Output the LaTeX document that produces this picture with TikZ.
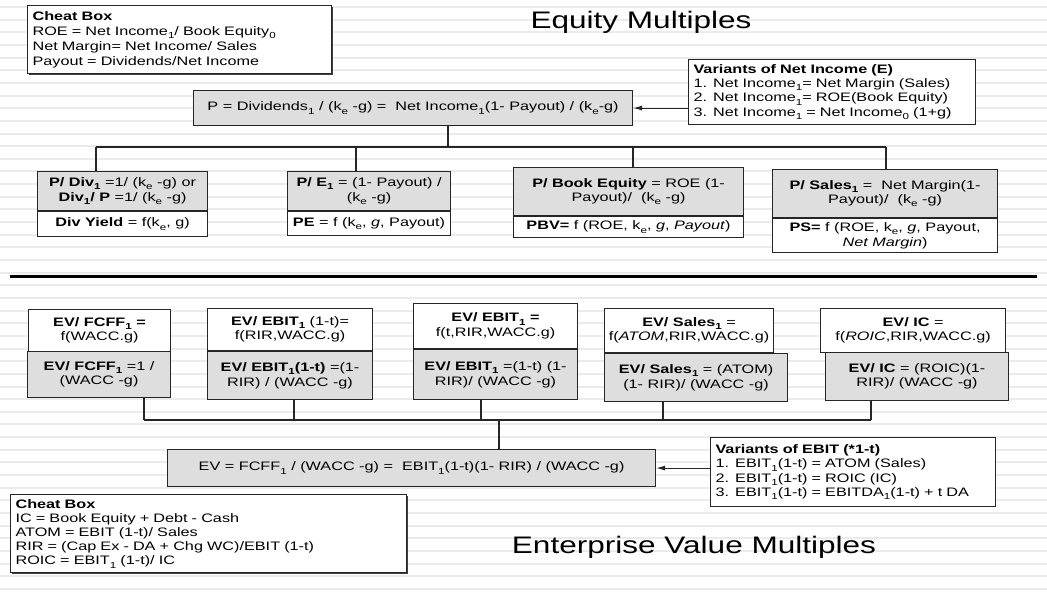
\documentclass[tikz,border=0pt]{standalone}
\usepackage{fontspec}
\setmainfont{Liberation Sans}[FakeStretch=1.32]
\usetikzlibrary{arrows.meta,positioning,calc,shadows}

\definecolor{boxgray}{RGB}{222,222,222}
\definecolor{stripegray}{RGB}{235,235,235}
\newcommand{\sbsc}[1]{\raisebox{-3.2pt}{\fontsize{8.8}{9}\selectfont #1}}

\tikzset{
  whitebox/.style={draw=black!85, line width=1.1pt, fill=white, align=center, inner sep=1pt, anchor=north west},
  greybox/.style={whitebox, fill=boxgray},
  note/.style={draw=black!85, line width=1.1pt, fill=white, align=left, anchor=north west,
    inner xsep=5pt, inner ysep=2pt, font=\fontsize{12.3}{14.2}\selectfont},
  cheat/.style={note, drop shadow={shadow xshift=1.2pt, shadow yshift=-1.2pt, fill=black!75, opacity=1}},
  wire/.style={line width=1.1pt, draw=black!85},
  feed/.style={wire, -{Latex[length=9pt,width=5pt]}},
  bigtitle/.style={font=\fontsize{23.9}{28}\selectfont}
}

\begin{document}
\begin{tikzpicture}[x=1pt, y=-1pt, font=\fontsize{12.3}{14.5}\selectfont]
  \useasboundingbox (0,0) rectangle (1047,595);
  \foreach \k in {0,...,46}
    \draw[stripegray, line width=2pt] (0,{7+12.65*\k}) -- (1047,{7+12.65*\k});

  % equity multiples
  \node[cheat, text width=294pt, minimum height=68pt, font=\fontsize{12.3}{15}\selectfont] (cheattop) at (27,5)
    {\textbf{Cheat Box}\\ROE = Net Income\sbsc{1}/ Book Equity\sbsc{0}\\Net Margin= Net Income/ Sales\\Payout = Dividends/Net Income};
  \node[bigtitle] (eqtitle) at (641,22) {Equity Multiples};
  \node[note, text width=277pt, minimum height=65pt] (varni) at (688,59)
    {\textbf{Variants of Net Income (E)}\\1. Net Income\sbsc{1}= Net Margin (Sales)\\2. Net Income\sbsc{1}= ROE(Book Equity)\\3. Net Income\sbsc{1} = Net Income\sbsc{0} (1+g)};
  \node[greybox, minimum width=439pt, minimum height=35pt] (pbox) at (193,90)
    {P = Dividends\sbsc{1} / (k\sbsc{e} -g) = \ Net Income\sbsc{1}(1- Payout) / (k\sbsc{e}-g)};
  \draw[feed] (varni.west |- pbox.east) -- (pbox.east);

  \node[greybox, minimum width=170pt, minimum height=39pt] (divtop) at (37,171)
    {\textbf{P/ Div\sbsc{1}} =1/ (k\sbsc{e} -g) or\\\textbf{Div\sbsc{1}/ P} =1/ (k\sbsc{e} -g)};
  \node[whitebox, minimum width=170pt, minimum height=25pt, below=0pt of divtop] (divbot)
    {\textbf{Div Yield} = f(k\sbsc{e}, g)};
  \node[greybox, minimum width=163pt, minimum height=39pt] (petop) at (287,171)
    {\textbf{P/ E\sbsc{1}} = (1- Payout) /\\(k\sbsc{e} -g)};
  \node[whitebox, minimum width=163pt, minimum height=24pt, below=0pt of petop] (pebot)
    {\textbf{PE} = f (k\sbsc{e}, \textit{g}, Payout)};
  \node[greybox, minimum width=230pt, minimum height=48pt] (pbvtop) at (513,167)
    {\textbf{P/ Book Equity} = ROE (1-\\Payout)/ \ (k\sbsc{e} -g)};
  \node[whitebox, minimum width=230pt, minimum height=21pt, below=0pt of pbvtop] (pbvbot)
    {\textbf{PBV=} f (ROE, k\sbsc{e}, \textit{g}, \textit{Payout})};
  \node[greybox, minimum width=225pt, minimum height=48pt] (pstop) at (772,169)
    {\textbf{P/ Sales\sbsc{1}} = \ Net Margin(1-\\Payout)/ \ (k\sbsc{e} -g)};
  \node[whitebox, minimum width=225pt, minimum height=34pt, below=0pt of pstop] (psbot)
    {\textbf{PS=} f (ROE, k\sbsc{e}, \textit{g}, Payout,\\\textit{Net Margin})};

  \coordinate (pdrop) at (448,147);
  \coordinate (busw) at (96,147);
  \coordinate (pedrop) at (356,147);
  \coordinate (pbvdrop) at (633,147);
  \coordinate (buse) at (886,147);
  \draw[wire] (pdrop |- pbox.south) -- (pdrop);
  \draw[wire] (busw) -- (buse);
  \draw[wire] (busw) -- (busw |- divtop.north);
  \draw[wire] (pedrop) -- (pedrop |- petop.north);
  \draw[wire] (pbvdrop) -- (pbvdrop |- pbvtop.north);
  \draw[wire] (buse) -- (buse |- pstop.north);

  \draw[line width=3pt] (10,276) -- (1037,276);

  % enterprise value multiples
  \node[whitebox, minimum width=142pt, minimum height=42pt] (fcfftop) at (28,309)
    {\textbf{EV/ FCFF\sbsc{1} =}\\f(WACC.g)};
  \node[greybox, minimum width=143pt, minimum height=46pt] (fcffbot) at (27,351)
    {\textbf{EV/ FCFF\sbsc{1}} =1 /\\(WACC -g)};
  \node[whitebox, minimum width=165pt, minimum height=42pt] (ebtttop) at (207,308)
    {\textbf{EV/ EBIT\sbsc{1}} (1-t)=\\f(RIR,WACC.g)};
  \node[greybox, minimum width=165pt, minimum height=48pt, below=0pt of ebtttop] (ebttbot)
    {\textbf{EV/ EBIT\sbsc{1}(1-t)} =(1-\\RIR) / (WACC -g)};
  \node[whitebox, minimum width=164pt, minimum height=45pt] (ebittop) at (413,303)
    {\textbf{EV/ EBIT\sbsc{1} =}\\f(t,RIR,WACC.g)};
  \node[greybox, minimum width=164pt, minimum height=50pt, below=0pt of ebittop] (ebitbot)
    {\textbf{EV/ EBIT\sbsc{1}} =(1-t) (1-\\RIR)/ (WACC -g)};
  \node[whitebox, minimum width=169pt, minimum height=44pt] (salestop) at (604,308)
    {\textbf{EV/ Sales\sbsc{1}} =\\f(\textit{ATOM},RIR,WACC.g)};
  \node[greybox, minimum width=183pt, minimum height=48pt] (salesbot) at (salestop.south west)
    {\textbf{EV/ Sales\sbsc{1}} = (ATOM)\\(1- RIR)/ (WACC -g)};
  \node[whitebox, minimum width=185pt, minimum height=44pt] (ictop) at (820,308)
    {\textbf{EV/ IC} =\\f(\textit{ROIC},RIR,WACC.g)};
  \node[greybox, minimum width=183pt, minimum height=48pt] (icbot) at (825,352)
    {\textbf{EV/ IC} = (ROIC)(1-\\RIR)/ (WACC -g)};

  \node[greybox, minimum width=488pt, minimum height=37pt] (evbox) at (167,449)
    {EV = FCFF\sbsc{1} / (WACC -g) = \ EBIT\sbsc{1}(1-t)(1- RIR) / (WACC -g)};
  \node[note, text width=275pt, minimum height=69pt] (varebit) at (710,437)
    {\textbf{Variants of EBIT (*1-t)}\\1. EBIT\sbsc{1}(1-t) = ATOM (Sales)\\2. EBIT\sbsc{1}(1-t) = ROIC (IC)\\3. EBIT\sbsc{1}(1-t) = EBITDA\sbsc{1}(1-t) + t DA};
  \draw[feed] (varebit.west |- evbox.east) -- (evbox.east);

  \coordinate (fcffj) at (144,420);
  \coordinate (ebttj) at (294,420);
  \coordinate (ebitj) at (481,420);
  \coordinate (salesj) at (663,420);
  \coordinate (icj) at (871,420);
  \coordinate (evj) at (499,420);
  \foreach \b/\j in {fcffbot/fcffj, ebttbot/ebttj, ebitbot/ebitj, salesbot/salesj, icbot/icj}
    \draw[wire] (\j |- \b.south) -- (\j);
  \draw[wire] (fcffj) -- (icj);
  \draw[wire] (evj) -- (evj |- evbox.north);

  \node[cheat, text width=386pt, minimum height=78pt] (cheatbot) at (10,494)
    {\textbf{Cheat Box}\\IC = Book Equity + Debt - Cash\\ATOM = EBIT (1-t)/ Sales\\RIR = (Cap Ex - DA + Chg WC)/EBIT (1-t)\\ROIC = EBIT\sbsc{1} (1-t)/ IC};
  \node[bigtitle] (evtitle) at (694,547) {Enterprise Value Multiples};
\end{tikzpicture}
\end{document}
